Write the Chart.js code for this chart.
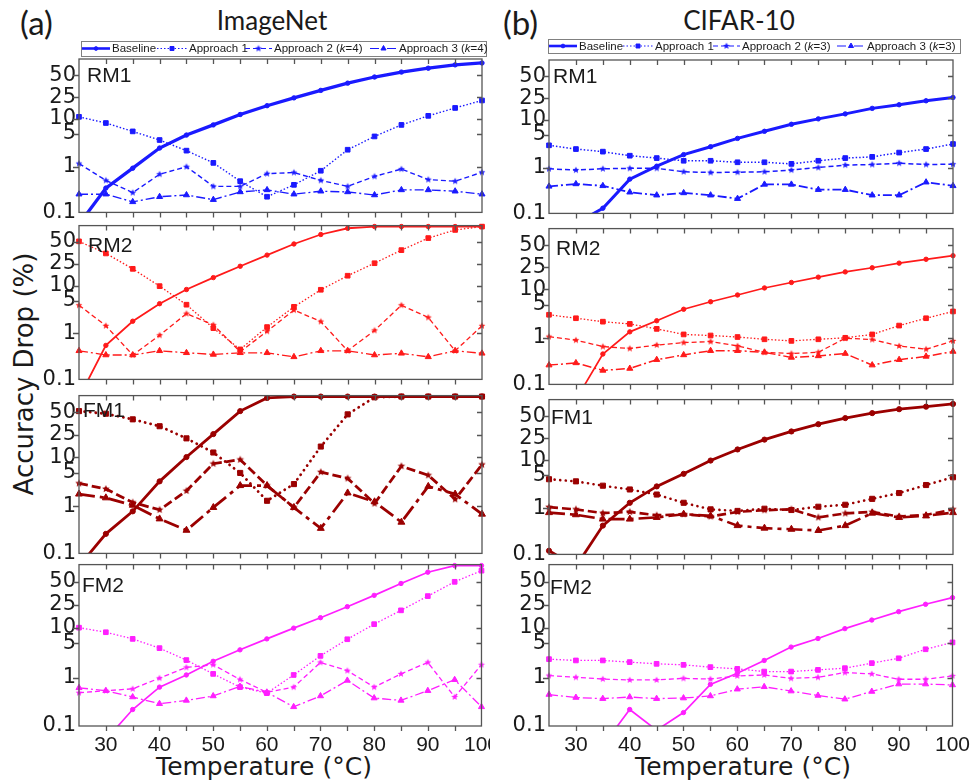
<!DOCTYPE html>
<html><head><meta charset="utf-8">
<script src="https://cdn.jsdelivr.net/npm/chart.js@4.4.1/dist/chart.umd.min.js"></script>
<style>
html,body{margin:0;padding:0;background:#fff;}
body{width:976px;height:784px;overflow:hidden;position:relative;}
canvas{position:absolute;}
.t{position:absolute;color:#1a1a1a;white-space:nowrap;line-height:1;}
</style></head><body>
<div class="t" style="left:20px;top:2px;font:33px Lato">(a)</div>
<div class="t" style="left:503px;top:2px;font:33px Lato">(b)</div>
<div class="t" style="left:272px;top:4px;font:26px Lato;transform:translateX(-50%)">ImageNet</div>
<div class="t" style="left:739px;top:4px;font:26px Lato;transform:translateX(-50%)">CIFAR-10</div>
<div class="t" style="left:264px;top:752px;font:25px 'DejaVu Sans';transform:translateX(-50%)">Temperature (°C)</div>
<div class="t" style="left:743px;top:752px;font:25px 'DejaVu Sans';transform:translateX(-50%)">Temperature (°C)</div>
<div class="t" style="left:24px;top:374px;font:26px 'DejaVu Sans';transform:translate(-50%,-50%) rotate(-90deg)">Accuracy Drop (%)</div>
<script>
// ---------------- data ----------------
const TEMPS = [25,30,35,40,45,50,55,60,65,70,75,80,85,90,95,100];
const X_TICKS = [30,40,50,60,70,80,90,100];
const Y_TICKS = [0.1,1,5,10,25,50];
const Y_MIN = 0.1, Y_MAX = 69.5;

// ImageNet
const imnRM1Base = [0.055,0.34,0.92,2.5,4.7,7.6,12.2,17.8,24.3,31.9,40.3,47.9,54.1,58.9,62.9,65.1];
const imnRM1App1 = [11.0,8.3,5.6,3.7,2.2,1.2,0.48,0.22,0.40,0.81,2.3,4.4,7.6,11.5,16.2,22];
const imnRM1App2 = [1.16,0.50,0.27,0.68,0.99,0.37,0.37,0.70,0.74,0.50,0.37,0.61,0.88,0.52,0.48,0.75];
const imnRM1App3 = [0.25,0.25,0.17,0.22,0.24,0.19,0.28,0.31,0.25,0.29,0.28,0.24,0.31,0.31,0.29,0.25];

const imnRM2Base = [0.04,0.55,1.83,4.3,8.4,14.3,22.8,34.1,47.5,59.3,66.6,68.5,68.5,68.5,68.5,68.5];
const imnRM2App1 = [50.8,36,20.6,9.8,4.1,1.3,0.45,1.37,3.7,8.3,15.5,25.6,39.9,54.9,64.7,68.4];
const imnRM2App2 = [4.0,1.46,0.34,0.91,2.66,1.53,0.40,1.11,3.16,1.8,0.42,1.16,4.0,2.2,0.42,1.46];
const imnRM2App3 = [0.42,0.34,0.34,0.42,0.38,0.35,0.38,0.38,0.31,0.42,0.42,0.34,0.37,0.31,0.42,0.37];

const imnFM1Base = [0.054,0.26,0.78,3.3,10.1,25.7,51.6,67,68.5,68.5,68.5,68.5,68.5,68.5,68.5,68.5];
const imnFM1App1 = [51.6,48.4,41.6,33.7,21.9,12.3,4.9,1.3,2.9,15.8,47.6,67.7,68.5,68.5,68.5,68.5];
const imnFM1App2 = [3.0,2.3,1.2,0.84,2.1,7.5,9.0,2.7,0.94,5.1,3.8,1.14,6.7,4.4,1.4,7.2];
const imnFM1App3 = [1.8,1.5,1.05,0.54,0.31,0.94,2.7,2.7,0.94,0.34,1.9,1.24,0.46,2.6,1.8,0.68];

const imnFM2Base = [0.025,0.052,0.22,0.64,1.14,2.17,3.7,6.1,9.8,15.2,23.3,34.3,48,61.3,68.5,68.5];
const imnFM2App1 = [10,8.2,6.1,4.0,2.3,1.2,0.64,0.48,1.14,2.8,6.0,11.6,20.3,33.5,50,63];
const imnFM2App2 = [0.49,0.54,0.59,0.98,1.63,1.85,0.92,0.50,0.64,2.06,1.4,0.64,1.2,2.06,0.40,1.85];
const imnFM2App3 = [0.62,0.54,0.40,0.29,0.34,0.42,0.66,0.50,0.25,0.42,0.88,0.38,0.34,0.54,0.91,0.25];

// CIFAR-10
const cifRM1Base = [0.03,0.06,0.13,0.56,1.07,1.9,2.8,4.2,5.9,8.2,10.5,13.1,16.6,19.3,22.6,25.6];
const cifRM1App1 = [3.0,2.5,2.2,1.8,1.6,1.4,1.4,1.3,1.3,1.2,1.4,1.6,1.7,2.1,2.5,3.2];
const cifRM1App2 = [0.94,0.88,0.94,0.96,0.96,0.81,0.78,0.79,0.81,0.88,1.0,1.13,1.16,1.24,1.16,1.18];
const cifRM1App3 = [0.39,0.44,0.40,0.29,0.25,0.28,0.25,0.21,0.43,0.43,0.33,0.33,0.25,0.25,0.48,0.40];

const cifRM2Base = [0.02,0.047,0.45,1.34,2.3,4.0,5.7,7.8,10.7,13.6,17,21,24.6,29.1,33.2,37.3];
const cifRM2App1 = [3.07,2.6,2.2,1.97,1.55,1.18,1.12,1.04,0.93,0.86,0.93,1.0,1.18,1.82,2.6,3.6];
const cifRM2App2 = [1.06,0.89,0.65,0.59,0.70,0.79,0.83,0.67,0.49,0.46,0.49,0.98,0.92,0.67,0.57,0.86];
const cifRM2App3 = [0.26,0.29,0.20,0.22,0.34,0.43,0.53,0.53,0.49,0.38,0.41,0.46,0.26,0.34,0.40,0.51];

const cifFM1Base = [0.12,0.055,0.42,1.3,2.9,5.3,9.8,15.9,23.6,31.7,40,47.5,53.7,58.5,61.6,64.7];
const cifFM1App1 = [4.1,3.7,3.0,2.5,1.95,1.3,0.94,0.87,0.97,0.91,1.07,1.18,1.58,2.1,3.1,4.5];
const cifFM1App2 = [1.05,0.94,0.78,0.83,0.70,0.74,0.66,0.83,0.90,0.94,0.63,0.77,0.83,0.66,0.71,0.94];
const cifFM1App3 = [0.80,0.72,0.58,0.58,0.63,0.74,0.68,0.42,0.37,0.35,0.33,0.42,0.78,0.63,0.68,0.80];

const cifFM2Base = [0.02,0.03,0.039,0.22,0.082,0.19,0.73,1.24,2.26,4.2,6.2,9.6,13.8,19.3,25.4,31.9];
const cifFM2App1 = [2.4,2.26,2.26,2.09,1.93,1.84,1.65,1.52,1.34,1.34,1.45,1.57,1.99,2.5,3.8,5.2];
const cifFM2App2 = [1.11,1.02,0.94,0.90,0.90,0.97,0.94,1.09,1.14,0.97,1.02,1.28,1.20,0.93,0.93,1.09];
const cifFM2App3 = [0.45,0.39,0.37,0.40,0.37,0.38,0.42,0.58,0.65,0.53,0.43,0.36,0.52,0.74,0.74,0.71];

const SERIES_NAMES = ['Baseline','Approach 1','Approach 2','Approach 3'];
const K_VALUES = ['4','3'];

// ---------------- logit scale ----------------
const logit = v => { const p = Math.min(Math.max(v/100, 1e-7), 1-1e-7); return Math.log10(p/(1-p)); };
class LogitScale extends Chart.Scale {
  determineDataLimits() {
    this.min = this.options.min != null ? this.options.min : Y_MIN;
    this.max = this.options.max != null ? this.options.max : Y_MAX;
  }
  buildTicks() { return Y_TICKS.map(v => ({value: v})); }
  getLabelForValue(v) { return String(v); }
  configure() {
    super.configure();
    this._lo = logit(this.min); this._hi = logit(this.max);
  }
  getPixelForValue(v) {
    if (v === null || v === undefined || isNaN(v)) return NaN;
    return this.getPixelForDecimal((logit(v) - this._lo) / (this._hi - this._lo));
  }
  getValueForPixel(px) {
    const L = this._lo + this.getDecimalForPixel(px) * (this._hi - this._lo);
    const r = Math.pow(10, L); return 100 * r / (1 + r);
  }
}
LogitScale.id = 'logit';
LogitScale.defaults = {};
Chart.register(LogitScale);
Chart.defaults.font.family = 'Liberation Sans';

// ---------------- styles / layout ----------------
const BLUE = '#1a1aff', RED = '#ff1a1a', DRED = '#9b0000', MAG = '#ff1fff';
const COLS = [{plotL:79, plotR:482, yW:44}, {plotL:549, plotR:953, yW:59}];
const ROWS = [[[59,214],[224,381],[394,555],[563,726]], [[60,215],[227,386],[398,556],[563,726]]];
const PAD_R = 24, PAD_V = 14, X_H = 58, TOP_CANVAS = 36;

function starImg(color, r) {
  const c = document.createElement('canvas'); const s = Math.ceil(r*2 + 2);
  c.width = c.height = s;
  const g = c.getContext('2d'); g.fillStyle = color; g.beginPath();
  for (let i = 0; i < 10; i++) {
    const a = -Math.PI/2 + i*Math.PI/5, rr = (i % 2) ? r*0.45 : r;
    g.lineTo(s/2 + rr*Math.cos(a), s/2 + rr*Math.sin(a));
  }
  g.closePath(); g.fill(); return c;
}
function dashes(thick) {
  return thick ? [[], [0.1, 5.5], [9, 4], [16, 5, 4, 5]] : [[], [1.5, 2], [5, 3], [9, 3, 2, 3]];
}

const PANELS = [
  {c:0, r:0, name:'RM1', color:BLUE, w:[3.3,1.4,1.4,1.4], thick:false, lab:[8,23], s:[imnRM1Base,imnRM1App1,imnRM1App2,imnRM1App3]},
  {c:0, r:1, name:'RM2', color:RED,  w:[1.8,1.3,1.3,1.3], thick:false, lab:[9,26], s:[imnRM2Base,imnRM2App1,imnRM2App2,imnRM2App3]},
  {c:0, r:2, name:'FM1', color:DRED, w:[2.8,2.8,2.8,2.8], thick:true,  lab:[4,21], s:[imnFM1Base,imnFM1App1,imnFM1App2,imnFM1App3]},
  {c:0, r:3, name:'FM2', color:MAG,  w:[1.7,1.3,1.3,1.3], thick:false, lab:[3,27], s:[imnFM2Base,imnFM2App1,imnFM2App2,imnFM2App3]},
  {c:1, r:0, name:'RM1', color:BLUE, w:[3.0,1.5,1.5,1.8], thick:false, lab:[4,23], s:[cifRM1Base,cifRM1App1,cifRM1App2,cifRM1App3]},
  {c:1, r:1, name:'RM2', color:RED,  w:[1.7,1.3,1.3,1.5], thick:false, lab:[7,26], s:[cifRM2Base,cifRM2App1,cifRM2App2,cifRM2App3]},
  {c:1, r:2, name:'FM1', color:DRED, w:[2.8,2.6,2.6,2.6], thick:true,  lab:[2,24], s:[cifFM1Base,cifFM1App1,cifFM1App2,cifFM1App3]},
  {c:1, r:3, name:'FM2', color:MAG,  w:[1.7,1.3,1.3,1.3], thick:false, lab:[1,29], s:[cifFM2Base,cifFM2App1,cifFM2App2,cifFM2App3]}
];
const LEGENDS = [
  {box:[81,41,486,56], cy:48.5, entries:[[82,110,112],[157,187,189],[245,272,274],[370,397,399]]},
  {box:[548,39,960,53], cy:46, entries:[[549,577,579],[623,653,655],[713,740,742],[837,865,867]]}
];

function pointStyles(color, thick) {
  return {
    styles: ['circle', 'rect', starImg(color, thick ? 4 : 3.6), 'triangle'],
    radii: thick ? [2.6, 3.6, 4, 4] : [2.2, 3.3, 3.6, 3.5]
  };
}

function drawLegend(ctx, L, kVal, ox, oy) {
  ctx.save();
  ctx.translate(-ox, -oy);
  ctx.strokeStyle = '#808080'; ctx.lineWidth = 1;
  ctx.strokeRect(L.box[0] + 0.5, L.box[1] + 0.5, L.box[2] - L.box[0], L.box[3] - L.box[1]);
  const d = dashes(false);
  const ps = pointStyles(BLUE, false);
  SERIES_NAMES.forEach((nm, i) => {
    const [x1, x2, tx] = L.entries[i];
    ctx.strokeStyle = BLUE; ctx.fillStyle = BLUE;
    ctx.lineWidth = i === 0 ? 2.6 : 1.2;
    ctx.setLineDash(d[i]);
    ctx.beginPath(); ctx.moveTo(x1, L.cy); ctx.lineTo(x2, L.cy); ctx.stroke();
    ctx.setLineDash([]);
    ctx.lineWidth = 1;
    Chart.helpers.drawPoint(ctx, {pointStyle: ps.styles[i], radius: ps.radii[i] * 0.85, borderWidth: 1, rotation: 0}, (x1 + x2) / 2, L.cy);
    ctx.fillStyle = '#1a1a1a'; ctx.textBaseline = 'middle'; ctx.textAlign = 'left';
    const parts = i < 2 ? [[nm, false]] : [[nm + ' (', false], ['k', true], ['=' + kVal + ')', false]];
    let x = tx;
    parts.forEach(([t, it]) => {
      ctx.font = (it ? 'italic ' : '') + '11.5px "Liberation Sans"';
      ctx.fillText(t, x, L.cy + 0.5);
      x += ctx.measureText(t).width;
    });
  });
  ctx.restore();
}

PANELS.forEach(P => {
  const col = COLS[P.c];
  const [pTop, pBot] = ROWS[P.c][P.r];
  const isBottom = P.r === 3, isTop = P.r === 0;
  const padT = isTop ? pTop - TOP_CANVAS : PAD_V;
  const cLeft = col.plotL - col.yW, cTop = pTop - padT;
  const cW = col.yW + (col.plotR - col.plotL) + PAD_R;
  const cH = padT + (pBot - pTop) + (isBottom ? X_H : PAD_V);
  const cv = document.createElement('canvas');
  cv.width = cW; cv.height = cH;
  cv.style.left = cLeft + 'px'; cv.style.top = cTop + 'px';
  cv.style.width = cW + 'px'; cv.style.height = cH + 'px';
  document.body.appendChild(cv);

  const d = dashes(P.thick);
  const ps = pointStyles(P.color, P.thick);
  const datasets = P.s.map((vals, i) => ({
    label: SERIES_NAMES[i],
    data: TEMPS.map((t, j) => ({x: t, y: vals[j]})),
    borderColor: P.color, backgroundColor: P.color,
    pointBackgroundColor: P.color, pointBorderColor: P.color,
    borderWidth: P.w[i], borderDash: d[i],
    borderCapStyle: (P.thick && i === 1) ? 'round' : 'butt',
    pointStyle: ps.styles[i], pointRadius: ps.radii[i], pointBorderWidth: 1,
    pointHoverRadius: 0, tension: 0, fill: false,
    clip: {left: 5, right: 5, top: 5, bottom: 0},
    order: 4 - i
  }));

  const framePlugin = {
    id: 'frame',
    beforeDraw(chart) {
      if (P.c === 1 && isBottom) {
        const a = chart.chartArea, g = chart.ctx;
        g.save(); g.fillStyle = '#fff'; g.fillRect(0, a.bottom + 1, 23, chart.height - a.bottom); g.restore();
      }
    },
    afterDatasetsDraw(chart) {
      const {ctx, chartArea: a} = chart;
      const xs = chart.scales.x, ys = chart.scales.y;
      ctx.save();
      ctx.strokeStyle = '#555'; ctx.lineWidth = 1.3; ctx.setLineDash([]);
      ctx.strokeRect(a.left, a.top, a.right - a.left, a.bottom - a.top);
      ctx.beginPath();
      TEMPS.slice(1, -1).forEach(v => {
        const px = Math.round(xs.getPixelForValue(v)) + 0.5;
        ctx.moveTo(px, a.top); ctx.lineTo(px, a.top + 5);
        ctx.moveTo(px, a.bottom); ctx.lineTo(px, a.bottom + 5);
      });
      Y_TICKS.slice(1).forEach(v => {
        const py = Math.round(ys.getPixelForValue(v)) + 0.5;
        ctx.moveTo(a.left, py); ctx.lineTo(a.left - 6, py);
        ctx.moveTo(a.right, py); ctx.lineTo(a.right - 5, py);
      });
      ctx.stroke();
      ctx.fillStyle = '#1a1a1a'; ctx.font = '21px "Liberation Sans"';
      ctx.textAlign = 'left'; ctx.textBaseline = 'alphabetic';
      ctx.fillText(P.name, a.left + P.lab[0], a.top + P.lab[1]);
      if (isTop) drawLegend(ctx, LEGENDS[P.c], K_VALUES[P.c], cLeft, cTop);
      ctx.restore();
    }
  };

  new Chart(cv, {
    type: 'line',
    data: {datasets},
    plugins: [framePlugin],
    options: {
      responsive: false, animation: false, events: [], devicePixelRatio: 1,
      layout: {padding: {top: padT, right: PAD_R, bottom: isBottom ? 0 : PAD_V, left: 0}},
      plugins: {legend: {display: false}, tooltip: {enabled: false}},
      scales: {
        x: {
          type: 'linear', min: 25, max: 100, position: 'bottom',
          grid: {display: false, drawTicks: false}, border: {display: false},
          ticks: {display: isBottom, autoSkip: false, maxRotation: 0, padding: 7,
                  color: '#1a1a1a', font: {family: 'Liberation Sans', size: 21}},
          afterBuildTicks: s => { s.ticks = X_TICKS.map(v => ({value: v})); },
          afterFit: s => { s.height = isBottom ? X_H : 0; }
        },
        y: {
          type: 'logit', min: Y_MIN, max: Y_MAX, position: 'left',
          grid: {display: false, drawTicks: false}, border: {display: false},
          ticks: {autoSkip: false, padding: 3, color: '#1a1a1a',
                  font: {family: 'DejaVu Sans', size: 21}},
          afterFit: s => { s.width = col.yW; }
        }
      }
    }
  });
});
</script>
</body></html>
